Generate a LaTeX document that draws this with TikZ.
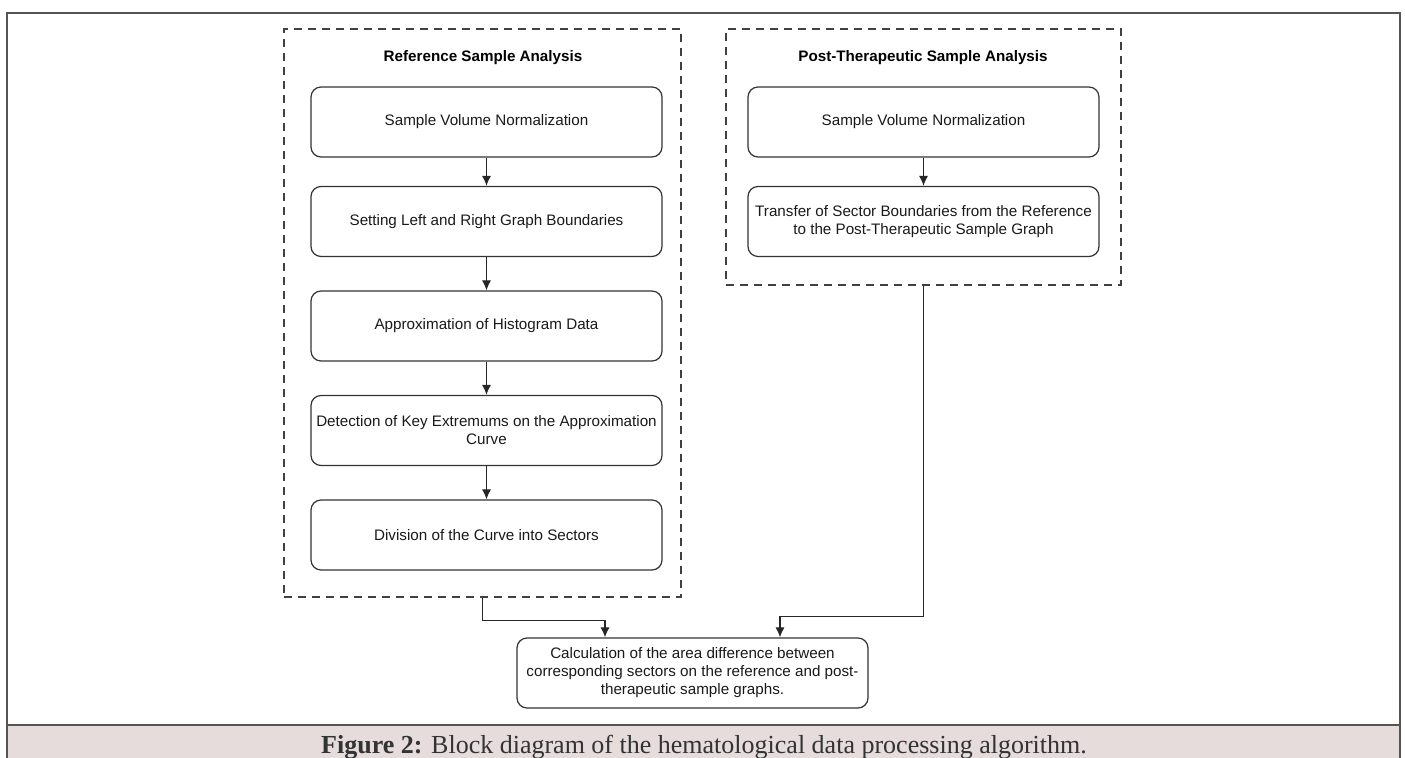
\documentclass[tikz,border=0pt]{standalone}
\usepackage{fontspec}
\setmainfont{Liberation Serif}
\setsansfont{Liberation Sans}
\usetikzlibrary{arrows.meta,calc}
\definecolor{capbg}{HTML}{E6DCDC}
\definecolor{framegray}{HTML}{555555}
\tikzset{
  stepbox/.style={draw=black!80,line width=0.6pt,rounded corners=5pt,minimum width=175.5pt,minimum height=35pt,align=center,inner sep=2pt,font=\sffamily\fontsize{7.6}{9}\selectfont,text=black!90},
  groupbox/.style={draw=black!75,dash pattern=on 4pt off 3pt,line width=0.6pt,inner sep=0pt},
  grouptitle/.style={font=\sffamily\bfseries\fontsize{7.6}{9}\selectfont},
  link/.style={->,draw=black!85,line width=0.6pt},
}
\begin{document}
\begin{tikzpicture}[x=0.5pt,y=-0.5pt,>={Latex[length=5pt,width=4.5pt]}]
\useasboundingbox (0,0) rectangle (1405,758);
\fill[capbg](7,725) rectangle (1400,770);
\draw[framegray,line width=1pt](7,770)--(7,13)--(1400,13)--(1400,770);
\draw[framegray,line width=1pt](7,725)--(1400,725);
\node[anchor=base,text=black!80,font=\fontsize{13}{15}\selectfont] (caption) at (704,754) {\textbf{Figure 2:} Block diagram of the hematological data processing algorithm.};

\node[groupbox,minimum width=198.5pt,minimum height=284pt] (refgrp) at (482.5,313) {};
\node[groupbox,minimum width=197.5pt,minimum height=128pt] (postgrp) at (923.5,157) {};
\node[grouptitle] (reftitle) at (483,58) {Reference Sample Analysis};
\node[grouptitle] (posttitle) at (923,58) {Post-Therapeutic Sample Analysis};

\node[stepbox] (r1) at (486.5,122) {Sample Volume Normalization};
\node[stepbox] (r2) at (486.5,221.5) {Setting Left and Right Graph Boundaries};
\node[stepbox] (r3) at (486.5,326) {Approximation of Histogram Data};
\node[stepbox] (r4) at (486.5,430.5) {Detection of Key Extremums on the Approximation\\Curve};
\node[stepbox] (r5) at (486.5,535) {Division of the Curve into Sectors};
\node[stepbox] (p1) at (923.5,122) {Sample Volume Normalization};
\node[stepbox] (p2) at (923.5,221.5) {Transfer of Sector Boundaries from the Reference\\to the Post-Therapeutic Sample Graph};
\node[stepbox] (calc) at (692.5,673) {Calculation of the area difference between\\corresponding sectors on the reference and post-\\therapeutic sample graphs.};

\draw[link](r1)--(r2);
\draw[link](r2)--(r3);
\draw[link](r3)--(r4);
\draw[link](r4)--(r5);
\draw[link](p1)--(p2);
\draw[link](refgrp.south)--++(0,23)-|($(calc.north)+(-87.5,0)$);
\draw[link](postgrp.south)--++(0,331)-|($(calc.north)+(87.5,0)$);
\end{tikzpicture}
\end{document}
